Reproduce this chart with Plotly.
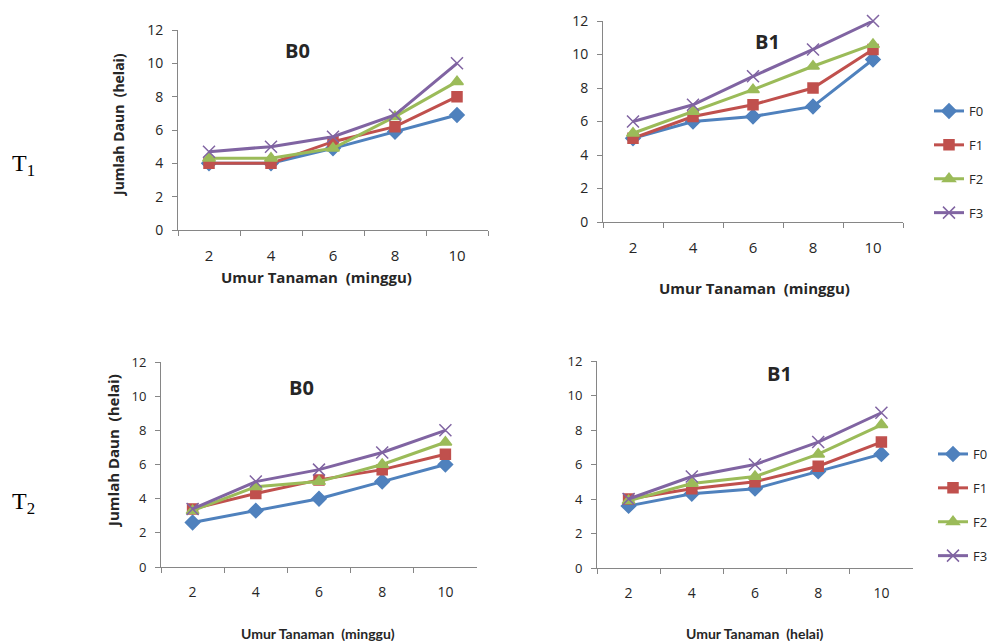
import plotly.graph_objects as go

W, H = 991, 641

weeks = ["2", "4", "6", "8", "10"]
series_names = ["F0", "F1", "F2", "F3"]

# T1 - B0
t1_b0_F0 = [4.0, 4.0, 4.9, 5.9, 6.9]
t1_b0_F1 = [4.0, 4.0, 5.3, 6.2, 8.0]
t1_b0_F2 = [4.3, 4.3, 4.9, 6.8, 8.9]
t1_b0_F3 = [4.7, 5.0, 5.6, 6.9, 10.0]
# T1 - B1
t1_b1_F0 = [5.0, 6.0, 6.3, 6.9, 9.7]
t1_b1_F1 = [5.0, 6.3, 7.0, 8.0, 10.3]
t1_b1_F2 = [5.3, 6.6, 7.9, 9.3, 10.6]
t1_b1_F3 = [6.0, 7.0, 8.7, 10.3, 12.0]
# T2 - B0
t2_b0_F0 = [2.6, 3.3, 4.0, 5.0, 6.0]
t2_b0_F1 = [3.4, 4.3, 5.1, 5.7, 6.6]
t2_b0_F2 = [3.3, 4.7, 5.0, 6.0, 7.3]
t2_b0_F3 = [3.4, 5.0, 5.7, 6.7, 8.0]
# T2 - B1
t2_b1_F0 = [3.6, 4.3, 4.6, 5.6, 6.6]
t2_b1_F1 = [4.0, 4.6, 5.0, 5.9, 7.3]
t2_b1_F2 = [3.9, 4.9, 5.3, 6.6, 8.3]
t2_b1_F3 = [4.0, 5.3, 6.0, 7.3, 9.0]

y_ticks = [0, 2, 4, 6, 8, 10, 12]

colors = ["#4F81BD", "#C0504D", "#9BBB59", "#8064A2"]
symbols = ["diamond", "square", "triangle-up", "x-thin-open"]
msizes = [11, 10, 11, 12]

panels = [
    dict(data=[t1_b0_F0, t1_b0_F1, t1_b0_F2, t1_b0_F3], px=(178, 488), py=(30, 230), legend=None, fs=15),
    dict(data=[t1_b1_F0, t1_b1_F1, t1_b1_F2, t1_b1_F3], px=(603, 903), py=(21, 222), legend="legend", fs=15),
    dict(data=[t2_b0_F0, t2_b0_F1, t2_b0_F2, t2_b0_F3], px=(161, 477), py=(362, 567), legend=None, fs=14),
    dict(data=[t2_b1_F0, t2_b1_F1, t2_b1_F2, t2_b1_F3], px=(597, 913), py=(361, 568), legend="legend2", fs=14),
]

fig = go.Figure()
FONT = "Open Sans, Lato, sans-serif"
axcol = "#868686"

for i, p in enumerate(panels):
    k = "" if i == 0 else str(i + 1)
    for j, vals in enumerate(p["data"]):
        tr = go.Scatter(
            x=weeks, y=vals, mode="lines+markers", name=series_names[j],
            line=dict(color=colors[j], width=3),
            marker=dict(symbol=symbols[j], size=msizes[j], color=colors[j],
                        line=dict(color=colors[j], width=1.5)),
            xaxis="x" + k, yaxis="y" + k,
            showlegend=p["legend"] is not None,
            legendgroup=(p["legend"] or "") + series_names[j],
            cliponaxis=False,
        )
        if p["legend"]:
            tr.legend = p["legend"]
        fig.add_trace(tr)
    x0, x1 = p["px"]
    y0, y1 = p["py"]
    tf = dict(family=FONT, size=p["fs"], color="#262626")
    fig.layout["xaxis" + k] = dict(
        domain=[x0 / W, x1 / W], anchor="y" + k, type="category",
        range=[-0.5, 4.5], tickson="boundaries", ticks="outside", ticklen=5,
        tickcolor=axcol, showline=True, linecolor=axcol, linewidth=1,
        showgrid=False, zeroline=False, tickfont=tf, ticklabelstandoff=12,
        automargin=False,
    )
    fig.layout["yaxis" + k] = dict(
        domain=[1 - y1 / H, 1 - y0 / H], anchor="x" + k, range=[0, 12],
        tickvals=y_ticks, ticks="outside", ticklen=5, tickcolor=axcol,
        showline=True, linecolor=axcol, linewidth=1, showgrid=False,
        zeroline=False, tickfont=dict(family=FONT, size=p["fs"] - 1, color="#262626"),
        ticklabelstandoff=6, automargin=False,
    )

ann = []
def add(text, x, y, size, bold=False, angle=0, family=FONT, color="#262626"):
    t = f"<b>{text}</b>" if bold else text
    ann.append(dict(text=t, x=x / W, y=1 - y / H, xref="paper", yref="paper",
                    showarrow=False, textangle=angle, xanchor="center", yanchor="middle",
                    font=dict(family=family, size=size, color=color)))

add("B0", 297, 50, 20, True)
add("B1", 767, 42, 20, True)
add("B0", 301, 387, 20, True)
add("B1", 779, 373, 20, True)
add("Umur Tanaman  (minggu)", 316, 277, 15, True)
add("Umur Tanaman  (minggu)", 754, 288, 15, True)
add("Umur Tanaman  (minggu)", 318, 633, 14, True, family="Lato, Open Sans, sans-serif")
add("Umur Tanaman  (helai)", 755, 633, 14, True, family="Lato, Open Sans, sans-serif")
add("Jumlah Daun  (helai)", 118, 125, 14, True, -90)
add("Jumlah Daun  (helai)", 113, 451, 15, True, -90)
add("T<sub>1</sub>", 23, 165, 24, False, 0, "Liberation Serif, Times New Roman, serif", "#000000")
add("T<sub>2</sub>", 23, 503, 24, False, 0, "Liberation Serif, Times New Roman, serif", "#000000")

legfont = dict(family=FONT, size=13, color="#262626")
fig.update_layout(
    width=W, height=H, margin=dict(l=0, r=0, t=0, b=0, autoexpand=False),
    paper_bgcolor="white", plot_bgcolor="white",
    annotations=ann,
    legend=dict(x=929 / W, y=1 - 96 / H, xanchor="left", yanchor="top",
                font=legfont, tracegroupgap=14, bgcolor="rgba(0,0,0,0)"),
    legend2=dict(x=933 / W, y=1 - 439 / H, xanchor="left", yanchor="top",
                 font=legfont, tracegroupgap=14, bgcolor="rgba(0,0,0,0)"),
)

fig.write_html("out.html", config={"displayModeBar": False},
               post_script="document.body.style.margin='0';document.body.style.overflow='hidden';")
